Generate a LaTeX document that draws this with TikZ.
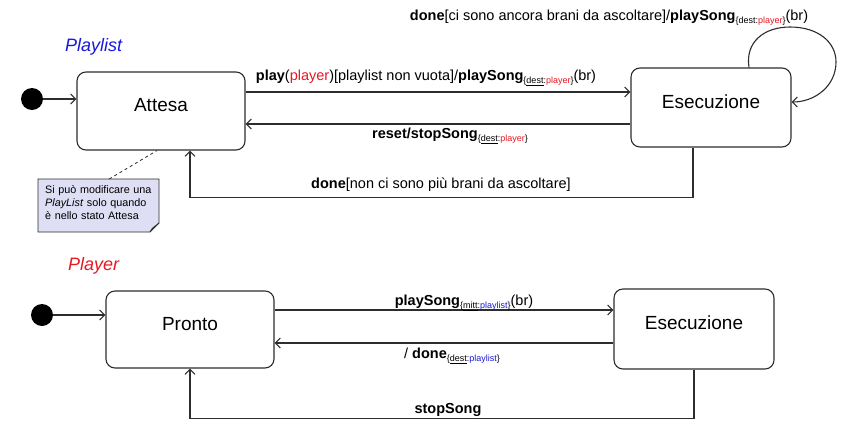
\documentclass[tikz,border=0pt]{standalone}
\usepackage{fontspec}
\setmainfont{Liberation Sans}
\usetikzlibrary{arrows.meta}
\definecolor{myred}{RGB}{230,25,35}
\definecolor{myblue}{RGB}{25,25,220}
\definecolor{notefill}{RGB}{222,222,245}
\definecolor{linec}{RGB}{45,45,45}
\newcommand\sbu[3]{\raisebox{-3.5pt}{\fontsize{9}{9}\selectfont\{\underline{#1}:\textcolor{#3}{#2}\}}}
\newcommand\sbn[3]{\raisebox{-3.5pt}{\fontsize{9}{9}\selectfont\{#1:\textcolor{#3}{#2}\}}}
\begin{document}
\begin{tikzpicture}[x=1pt,y=-1pt,
 state/.style={draw=linec, line width=1.1pt, rounded corners=9pt, font=\fontsize{19}{22}\selectfont, text height=13.6pt, text depth=12pt, inner sep=0pt},
 arr/.style={draw=linec, line width=1.1pt, -{Straight Barb[length=5pt,width=10pt,line width=1.1pt]}},
 lab/.style={font=\fontsize{14.5}{17}\selectfont, anchor=base, inner sep=0pt},
 init/.style={circle, fill=black, minimum size=22pt, inner sep=0pt},
 ttl/.style={font=\fontsize{18}{20}\selectfont\itshape, anchor=base west, inner sep=0pt}
]
\useasboundingbox[fill=white] (0,0) rectangle (845,442);

% ---------- Playlist ----------
\node[ttl, text=myblue] (t1) at (65,51) {Playlist};
\node[init] (i1) at (32,99) {};
\node[state, minimum width=168pt, minimum height=78pt] (attesa) at (161,111) {Attesa};
\node[state, minimum width=160pt, minimum height=79pt] (ese1) at (711,107.5) {Esecuzione};

\draw[arr] (i1) -- (i1 -| attesa.west);
\draw[arr] ([yshift=19pt]attesa.east) -- ([yshift=19pt]attesa.east -| ese1.west);
\draw[arr] ([yshift=-13pt]attesa.east -| ese1.west) -- ([yshift=-13pt]attesa.east);
\draw[arr] ([xshift=-18pt]ese1.south) -- ++(0,50) -| ([xshift=29pt]attesa.south);
\draw[arr] ([xshift=38pt]ese1.north) .. controls (745,42) and (764,27) .. (790,27)
  .. controls (818,27) and (836,42) .. (836,62)
  .. controls (836,86) and (815,102) .. ([yshift=5.5pt]ese1.east);

\node[lab] (l1) at (609,20) {\textbf{done}[ci sono ancora brani da ascoltare]/\textbf{playSong}\sbn{dest}{player}{myred}(br)};
\node[lab] (l2) at (426,80) {\textbf{play}(\textcolor{myred}{player})[playlist non vuota]/\textbf{playSong}\sbu{dest}{player}{myred}(br)};
\node[lab] (l3) at (450,138) {\textbf{reset/stopSong}\sbu{dest}{player}{myred}};
\node[lab] (l4) at (441,188) {\textbf{done}[non ci sono più brani da ascoltare]};

% note
\coordinate (nnw) at (38,179);
\coordinate (nse) at (159,232);
\draw[draw=linec, line width=0.8pt, fill=notefill] (nnw) -- (nnw -| nse) -- ([yshift=9pt]nse) -- ([xshift=-9pt]nse) -- (nnw |- nse) -- cycle;
\draw[draw=linec, line width=0.8pt] ([yshift=9pt]nse) .. controls ([xshift=-4pt,yshift=5pt]nse) and ([xshift=-6pt,yshift=6pt]nse) .. ([xshift=-9pt]nse);
\node[anchor=north west, inner sep=0pt, align=left, font=\fontsize{10.8}{13}\selectfont, text width=112pt] (notetxt) at (45,185)
 {Si può modificare una\\ \textit{PlayList} solo quando\\ è nello stato Attesa};
\draw[draw=linec, line width=0.8pt, dashed] ([xshift=8pt]nnw -| notetxt.center) coordinate (nt) -- ([xshift=-4pt]attesa.south);

% ---------- Player ----------
\node[ttl, text=myred] (t2) at (68,270) {Player};
\node[init] (i2) at (42,315) {};
\node[state, minimum width=168pt, minimum height=77pt] (pronto) at (190,329.5) {Pronto};
\node[state, minimum width=160pt, minimum height=80pt] (ese2) at (694,329) {Esecuzione};

\draw[arr] (i2) -- (i2 -| pronto.west);
\draw[arr] ([yshift=19.5pt]pronto.east) -- ([yshift=19.5pt]pronto.east -| ese2.west);
\draw[arr] ([yshift=-13.5pt]pronto.east -| ese2.west) -- ([yshift=-13.5pt]pronto.east);
\draw[arr] (ese2.south) -- ++(0,49) -| (pronto.south);

\node[lab] (l5) at (464,305) {\textbf{playSong}\sbu{mitt}{playlist}{myblue}(br)};
\node[lab] (l6) at (452,358) {/ \textbf{done}\sbu{dest}{playlist}{myblue}};
\node[lab] (l7) at (448,413) {\textbf{stopSong}};
\end{tikzpicture}
\end{document}
